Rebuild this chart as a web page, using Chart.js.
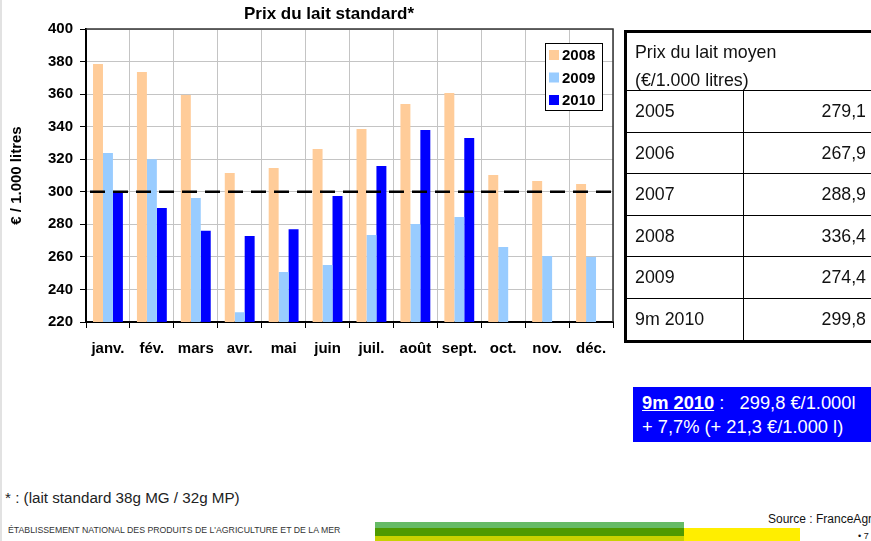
<!DOCTYPE html>
<html lang="fr">

<head>
    <meta charset="UTF-8">
    <title>Prix du lait standard</title>
    <script src="https://cdn.jsdelivr.net/npm/chart.js@4.4.1/dist/chart.umd.min.js"></script>
    <style>
        html, body { margin: 0; padding: 0; }
        body { width: 871px; height: 541px; overflow: hidden; background: #fff; position: relative; font-family: Arial, "Liberation Sans", sans-serif; }
        #chartBox { position: absolute; left: 0; top: 0; }
        #edge { position: absolute; left: 0; top: 0; width: 2px; height: 541px; background: #e2e2e2; }
        .rule { position: absolute; background: #000; }
        .cell { position: absolute; font-size: 17.8px; color: #111; line-height: 20px; white-space: nowrap; }
        .cell.val { text-align: right; width: 120px; }
        #bluebox { position: absolute; left: 633px; top: 387px; width: 238px; height: 55px; background: #0000ff; color: #fff; font-size: 18.3px; line-height: 24px; padding: 4px 0 0 9px; box-sizing: border-box; white-space: nowrap; overflow: hidden; }
        #bluebox b { text-decoration: underline; }
        #note { position: absolute; left: 5px; top: 489px; font-size: 15.2px; color: #222; }
        #etab { position: absolute; left: 8px; top: 525px; font-size: 9px; color: #333; transform: scaleX(0.97); transform-origin: left top; white-space: nowrap; }
        #source { position: absolute; left: 768px; top: 512px; font-size: 12px; color: #111; white-space: nowrap; }
        #page { position: absolute; left: 858px; top: 531px; font-size: 9px; color: #111; }
        .band { position: absolute; }
    </style>
</head>

<body>
    <div id="edge"></div>
    <div id="chartBox"><canvas id="laitChart" width="658" height="365"></canvas></div>

    <div id="moyen"></div>

    <div id="bluebox"><b>9m 2010</b> :&nbsp;&nbsp; 299,8 €/1.000l<br>+ 7,7% (+ 21,3 €/1.000 l)</div>

    <div id="note">* : (lait standard 38g MG / 32g MP)</div>
    <div id="etab">ÉTABLISSEMENT NATIONAL DES PRODUITS DE L'AGRICULTURE ET DE LA MER</div>
    <div class="band" style="left:375px;top:522px;width:309px;height:6px;background:#66bb66"></div>
    <div class="band" style="left:375px;top:528px;width:309px;height:8px;background:#4e9a00"></div>
    <div class="band" style="left:375px;top:536px;width:309px;height:5px;background:#c8d200"></div>
    <div class="band" style="left:684px;top:528px;width:116px;height:13px;background:#ffee00"></div>
    <div id="source">Source : FranceAgriMer</div>
    <div id="page">• 7</div>

    <script>
        const months = ['janv.', 'fév.', 'mars', 'avr.', 'mai', 'juin', 'juil.', 'août', 'sept.', 'oct.', 'nov.', 'déc.'];
        const prix2008 = [378.5, 373.6, 359.5, 311.5, 314.6, 326.3, 338.6, 353.9, 360.7, 310.3, 306.6, 304.8];
        const prix2009 = [323.8, 320.0, 296.2, 226.0, 250.7, 255.0, 273.5, 280.2, 284.5, 266.0, 260.6, 260.0];
        const prix2010 = [300.0, 290.0, 276.0, 272.9, 277.0, 297.4, 315.8, 338.0, 333.0, null, null, null];
        const seriesLabels = ['2008', '2009', '2010'];
        const refLine = 300;

        const tableYears = ['2005', '2006', '2007', '2008', '2009', '9m 2010'];
        const tableMoyen = ['279,1', '267,9', '288,9', '336,4', '274,4', '299,8'];

        // table of yearly averages, drawn with plain positioned divs
        const box = document.getElementById('moyen');
        function add(cls, style, html) {
            const d = document.createElement('div');
            d.className = cls;
            d.style.cssText = style;
            if (html) d.innerHTML = html;
            box.appendChild(d);
        }
        const rowH = 41.6, firstRow = 90;
        const lastRow = firstRow + rowH * tableYears.length;
        add('rule', 'left:624px;top:30px;width:247px;height:3px');
        add('rule', 'left:624px;top:30px;width:3px;height:' + (lastRow + 3 - 30) + 'px');
        add('rule', 'left:624px;top:' + lastRow + 'px;width:247px;height:3px');
        add('rule', 'left:743px;top:' + firstRow + 'px;width:1px;height:' + (lastRow - firstRow) + 'px');
        add('cell', 'left:635px;top:38px;line-height:28px', 'Prix du lait moyen<br>(€/1.000 litres)');
        tableYears.forEach((y, i) => {
            const top = firstRow + i * rowH;
            add('rule', 'left:624px;top:' + Math.round(top) + 'px;width:247px;height:1px');
            add('cell', 'left:635px;top:' + (top + 11) + 'px', y);
            add('cell val', 'left:746px;top:' + (top + 11) + 'px', tableMoyen[i]);
        });

        Chart.defaults.font.family = 'Arial, "Liberation Sans", sans-serif';
        Chart.defaults.color = '#000';

        const extras = {
            id: 'extras',
            beforeDatasetsDraw(chart) {
                const { ctx, chartArea: a } = chart;
                ctx.save();
                ctx.strokeStyle = '#333';
                ctx.lineWidth = 1.5;
                ctx.beginPath();
                ctx.moveTo(a.left, a.top);
                ctx.lineTo(a.right, a.top);
                ctx.lineTo(a.right, a.bottom);
                ctx.stroke();
                ctx.restore();
            },
            afterDatasetsDraw(chart) {
                const { ctx, chartArea: a, scales } = chart;
                const y = scales.y.getPixelForValue(refLine);
                ctx.save();
                ctx.strokeStyle = '#000';
                ctx.lineWidth = 2.5;
                ctx.setLineDash([15, 8]);
                ctx.beginPath();
                ctx.moveTo(a.left + 4, y);
                ctx.lineTo(a.right, y);
                ctx.stroke();
                ctx.restore();
            },
            afterDraw(chart) {
                const { ctx, chartArea: a } = chart;
                ctx.save();
                // title
                ctx.fillStyle = '#000';
                ctx.font = 'bold 17px Arial, "Liberation Sans", sans-serif';
                ctx.textAlign = 'center';
                ctx.textBaseline = 'middle';
                ctx.fillText('Prix du lait standard*', chart.width / 2, 14);

                // legend box
                const bx = a.right - 68, by = a.top + 14, bw = 57, bh = 67;
                ctx.fillStyle = '#fff';
                ctx.fillRect(bx, by, bw, bh);
                ctx.strokeStyle = '#000';
                ctx.lineWidth = 1;
                ctx.strokeRect(bx + 0.5, by + 0.5, bw, bh);
                ctx.font = 'bold 15px Arial, "Liberation Sans", sans-serif';
                ctx.textAlign = 'left';
                chart.data.datasets.forEach((ds, i) => {
                    const cy = by + 12 + i * 22.5;
                    ctx.fillStyle = ds.backgroundColor;
                    ctx.fillRect(bx + 4, cy - 5, 10, 10);
                    ctx.fillStyle = '#000';
                    ctx.fillText(ds.label, bx + 17, cy + 1);
                });
                ctx.restore();
            }
        };

        new Chart(document.getElementById('laitChart'), {
            type: 'bar',
            data: {
                labels: months,
                datasets: [
                    { label: seriesLabels[0], data: prix2008, backgroundColor: '#ffcc99' },
                    { label: seriesLabels[1], data: prix2009, backgroundColor: '#99ccff' },
                    { label: seriesLabels[2], data: prix2010, backgroundColor: '#0000ff' }
                ]
            },
            options: {
                responsive: false,
                animation: false,
                categoryPercentage: 0.68,
                barPercentage: 1.0,
                layout: { padding: { left: 0, right: 45, top: 29, bottom: 0 } },
                plugins: {
                    legend: { display: false },
                    title: { display: false },
                    tooltip: { enabled: false }
                },
                scales: {
                    x: {
                        afterFit: s => { s.height = 43; },
                        grid: { offset: true, color: '#c4c4c4', tickColor: '#000', tickLength: 6, lineWidth: 1 },
                        border: { color: '#000', width: 2 },
                        ticks: { font: { size: 15, weight: 'bold' }, color: '#000', padding: 12, maxRotation: 0 }
                    },
                    y: {
                        min: 220,
                        max: 400,
                        afterFit: s => { s.width = 86; },
                        grid: { color: '#c4c4c4', tickColor: '#000', tickLength: 6, lineWidth: 1 },
                        border: { color: '#000', width: 2 },
                        ticks: { stepSize: 20, font: { size: 15, weight: 'bold' }, color: '#000', padding: 7 },
                        title: {
                            display: true,
                            text: '€ / 1.000 litres',
                            font: { size: 15, weight: 'bold' },
                            color: '#000',
                            padding: { top: 8, bottom: 0 }
                        }
                    }
                }
            },
            plugins: [extras]
        });
    </script>
</body>

</html>
